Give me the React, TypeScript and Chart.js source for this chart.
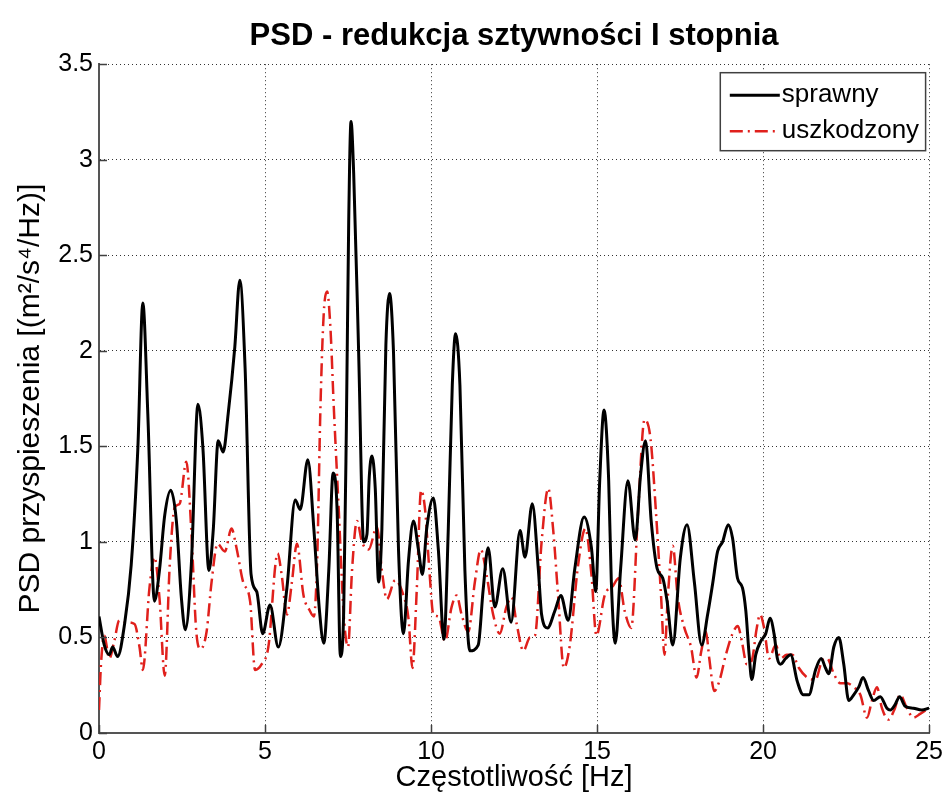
import React, { useEffect, useRef } from "react";
import { Chart, registerables } from "chart.js";

Chart.register(...registerables);

const TITLE = "PSD - redukcja sztywności I stopnia";
const X_LABEL = "Częstotliwość [Hz]";
const Y_LABEL = "PSD przyspieszenia [(m²/s⁴/Hz)]";
const SERIES_LABELS = ["sprawny", "uszkodzony"];
const X_TICKS = [0, 5, 10, 15, 20, 25];
const Y_TICKS = [0, 0.5, 1, 1.5, 2, 2.5, 3, 3.5];

const FREQ_SPRAWNY = [
  0, 0.16, 0.31, 0.41, 0.56, 0.77, 0.97, 1.17, 1.32, 1.47,
  1.67, 1.82, 1.98, 2.16, 2.33, 2.48, 2.6, 2.78, 2.98, 3.13,
  3.31, 3.44, 3.59, 3.74, 3.89, 4.09, 4.24, 4.4, 4.58, 4.75,
  4.93, 5.15, 5.4, 5.66, 5.91, 6.06, 6.29, 6.47, 6.64, 6.77,
  6.92, 7.05, 7.17, 7.27, 7.37, 7.45, 7.52, 7.59, 7.67, 7.82,
  7.97, 8.07, 8.14, 8.22, 8.32, 8.42, 8.52, 8.64, 8.75, 8.87,
  9.02, 9.17, 9.32, 9.47, 9.62, 9.74, 9.87, 10.07, 10.22, 10.39,
  10.52, 10.64, 10.74, 10.87, 11.02, 11.17, 11.42, 11.57, 11.72, 11.92,
  12.16, 12.41, 12.68, 12.83, 13.05, 13.23, 13.33, 13.51, 13.73, 13.91,
  14.13, 14.33, 14.61, 14.83, 14.96, 15.08, 15.21, 15.35, 15.43, 15.55,
  15.71, 15.93, 16.15, 16.31, 16.46, 16.63, 16.81, 16.98, 17.11, 17.28,
  17.51, 17.71, 17.93, 18.15, 18.33, 18.48, 18.63, 18.78, 18.95, 19.08,
  19.23, 19.38, 19.48, 19.58, 19.66, 19.78, 19.93, 20.08, 20.21, 20.33,
  20.43, 20.53, 20.68, 20.83, 21.03, 21.21, 21.38, 21.58, 21.75, 21.88,
  21.98, 22.13, 22.28, 22.43, 22.58, 22.73, 22.88, 23.01, 23.18, 23.33,
  23.53, 23.73, 23.83, 23.98, 24.11, 24.28, 24.53, 24.78, 25,
];
const PSD_SPRAWNY = [
  0.61, 0.46, 0.41, 0.45, 0.4, 0.57, 0.88, 1.49, 2.25, 1.67,
  0.69, 0.85, 1.14, 1.27, 1.11, 0.71, 0.54, 0.88, 1.72, 1.49,
  0.85, 1.06, 1.53, 1.47, 1.67, 2.02, 2.37, 1.91, 0.83, 0.74,
  0.52, 0.67, 0.45, 0.76, 1.22, 1.17, 1.43, 1.07, 0.64, 0.47,
  0.85, 1.36, 1.17, 0.4, 0.64, 1.6, 2.67, 3.2, 2.93, 1.99,
  1.0, 1.04, 1.34, 1.45, 1.28, 0.79, 1.07, 2.03, 2.3, 1.99,
  0.96, 0.52, 0.9, 1.11, 0.96, 0.83, 1.07, 1.23, 0.96, 0.49,
  1.07, 1.82, 2.09, 1.82, 0.85, 0.43, 0.46, 0.75, 0.97, 0.66,
  0.86, 0.58, 1.06, 0.92, 1.2, 0.86, 0.62, 0.55, 0.64, 0.72,
  0.59, 0.86, 1.13, 0.97, 0.74, 1.32, 1.69, 1.32, 0.79, 0.47,
  0.86, 1.32, 1.01, 1.35, 1.53, 1.11, 0.86, 0.81, 0.69, 0.46,
  0.92, 1.09, 0.79, 0.46, 0.62, 0.78, 0.95, 1.0, 1.09, 1.02,
  0.81, 0.76, 0.64, 0.41, 0.28, 0.41, 0.48, 0.52, 0.6, 0.52,
  0.39, 0.36, 0.39, 0.41, 0.27, 0.2, 0.2, 0.33, 0.39, 0.34,
  0.31, 0.45, 0.5, 0.36, 0.17, 0.2, 0.24, 0.29, 0.22, 0.17,
  0.19, 0.13, 0.12, 0.15, 0.19, 0.14, 0.13, 0.12, 0.13,
];

const FREQ_USZKODZONY = [
  0, 0.06, 0.16, 0.31, 0.46, 0.61, 0.82, 1.07, 1.22, 1.32,
  1.52, 1.67, 1.82, 1.98, 2.13, 2.28, 2.43, 2.63, 2.78, 2.93,
  3.06, 3.24, 3.39, 3.57, 3.79, 3.99, 4.14, 4.34, 4.55, 4.7,
  4.9, 5.1, 5.38, 5.5, 5.66, 5.81, 5.96, 6.16, 6.35, 6.47,
  6.57, 6.67, 6.77, 6.87, 6.97, 7.07, 7.22, 7.37, 7.5, 7.62,
  7.77, 7.92, 8.12, 8.37, 8.52, 8.67, 8.92, 9.17, 9.32, 9.44,
  9.57, 9.7, 9.82, 9.95, 10.07, 10.22, 10.42, 10.62, 10.77, 10.92,
  11.12, 11.32, 11.5, 11.67, 11.87, 12.07, 12.27, 12.43, 12.58, 12.78,
  12.98, 13.13, 13.33, 13.53, 13.68, 13.83, 14.0, 14.18, 14.43, 14.65,
  14.83, 14.98, 15.23, 15.48, 15.65, 15.83, 16.03, 16.23, 16.43, 16.61,
  16.78, 16.93, 17.03, 17.13, 17.28, 17.43, 17.63, 17.83, 18.0, 18.13,
  18.28, 18.38, 18.53, 18.68, 18.88, 19.08, 19.24, 19.36, 19.51, 19.66,
  19.81, 19.91, 20.03, 20.18, 20.38, 20.53, 20.71, 20.88, 21.08, 21.33,
  21.58, 21.78, 21.93, 22.13, 22.33, 22.53, 22.73, 22.93, 23.13, 23.28,
  23.43, 23.58, 23.78, 23.95, 24.13, 24.33, 24.53, 24.73, 25,
];
const PSD_USZKODZONY = [
  0.12, 0.36, 0.51, 0.39, 0.48, 0.59, 0.58, 0.57, 0.45, 0.33,
  0.76, 0.92, 0.71, 0.3, 0.88, 1.18, 1.2, 1.42, 1.06, 0.53,
  0.44, 0.53, 0.79, 0.99, 0.95, 1.07, 0.97, 0.79, 0.69, 0.33,
  0.36, 0.45, 0.94, 0.83, 0.62, 0.79, 0.99, 0.72, 0.64, 0.61,
  0.9, 1.71, 2.2, 2.31, 2.12, 1.71, 1.17, 0.62, 0.45, 0.85,
  1.11, 1.0, 0.96, 1.08, 0.85, 0.7, 0.8, 0.72, 0.6, 0.34,
  0.75, 1.27, 1.17, 0.85, 0.62, 0.61, 0.48, 0.66, 0.72, 0.62,
  0.53, 0.79, 0.96, 0.83, 0.62, 0.52, 0.66, 0.71, 0.57, 0.43,
  0.5, 0.51, 1.0, 1.28, 1.06, 0.71, 0.34, 0.46, 0.88, 1.07,
  0.83, 0.51, 0.72, 0.77, 0.81, 0.64, 0.55, 1.14, 1.64, 1.54,
  1.14, 0.71, 0.41, 0.71, 0.98, 0.71, 0.55, 0.45, 0.29, 0.42,
  0.53, 0.39, 0.22, 0.27, 0.41, 0.52, 0.56, 0.48, 0.36, 0.38,
  0.55, 0.62, 0.55, 0.39, 0.46, 0.39, 0.41, 0.41, 0.34, 0.29,
  0.28, 0.38, 0.39, 0.31, 0.26, 0.26, 0.24, 0.2, 0.08, 0.17,
  0.24, 0.13, 0.07, 0.12, 0.2, 0.13, 0.08, 0.1, 0.13,
];

const FONT = '"Liberation Sans", Arial, Helvetica, sans-serif';
const RED = "#e0201c";
const RED_DASH = [13, 5, 2, 5];

const toPoints = (xs: number[], ys: number[]) => xs.map((x, i) => ({ x, y: ys[i] }));

const inwardTicks = {
  id: "inwardTicks",
  afterDatasetsDraw(chart: any) {
    const { ctx, chartArea, scales } = chart;
    const len = 8;
    ctx.save();
    ctx.strokeStyle = "#404040";
    ctx.lineWidth = 1.5;
    ctx.beginPath();
    X_TICKS.forEach((v) => {
      const px = Math.round(scales.x.getPixelForValue(v)) + 0.5;
      ctx.moveTo(px, chartArea.bottom);
      ctx.lineTo(px, chartArea.bottom - len);
    });
    Y_TICKS.forEach((v) => {
      const py = Math.round(scales.y.getPixelForValue(v)) + 0.5;
      ctx.moveTo(chartArea.left, py);
      ctx.lineTo(chartArea.left + len, py);
    });
    ctx.stroke();
    ctx.restore();
  },
};

const boxLegend = {
  id: "boxLegend",
  afterDraw(chart: any) {
    const { ctx, chartArea } = chart;
    const sets = chart.data.datasets;
    ctx.save();
    ctx.font = `26px ${FONT}`;
    const textW = Math.max(...sets.map((d: any) => ctx.measureText(d.label).width));
    const padL = 10;
    const lineLen = 50;
    const gap = 2;
    const padR = 6;
    const rowH = 36;
    const w = padL + lineLen + gap + textW + padR;
    const h = rowH * sets.length + 6;
    const x = chartArea.right - 4 - w;
    const y = chartArea.top + 8;
    ctx.fillStyle = "#ffffff";
    ctx.fillRect(x, y, w, h);
    ctx.strokeStyle = "#404040";
    ctx.lineWidth = 1.5;
    ctx.strokeRect(x + 0.5, y + 0.5, w, h);
    sets.forEach((d: any, i: number) => {
      const cy = y + 3 + rowH * i + rowH / 2 + 2;
      ctx.strokeStyle = d.borderColor;
      ctx.lineWidth = d.borderWidth;
      ctx.setLineDash(d.borderDash || []);
      ctx.beginPath();
      ctx.moveTo(x + padL, cy);
      ctx.lineTo(x + padL + lineLen, cy);
      ctx.stroke();
      ctx.setLineDash([]);
      ctx.fillStyle = "#000";
      ctx.textBaseline = "middle";
      ctx.textAlign = "left";
      ctx.fillText(d.label, x + padL + lineLen + gap, cy);
    });
    ctx.restore();
  },
};

export default function App() {
  const ref = useRef<HTMLCanvasElement>(null);

  useEffect(() => {
    const canvas = ref.current;
    if (!canvas) return;
    const chart = new Chart(canvas, {
      type: "line",
      data: {
        datasets: [
          {
            label: SERIES_LABELS[0],
            data: toPoints(FREQ_SPRAWNY, PSD_SPRAWNY),
            borderColor: "#000000",
            borderWidth: 3,
            pointRadius: 0,
            cubicInterpolationMode: "monotone",
            fill: false,
          },
          {
            label: SERIES_LABELS[1],
            data: toPoints(FREQ_USZKODZONY, PSD_USZKODZONY),
            borderColor: RED,
            borderWidth: 2.5,
            borderDash: RED_DASH,
            pointRadius: 0,
            cubicInterpolationMode: "monotone",
            fill: false,
          },
        ],
      },
      options: {
        responsive: false,
        animation: false,
        devicePixelRatio: 1,
        layout: { padding: { left: 0, right: 16, top: 0, bottom: 0 } },
        plugins: {
          legend: { display: false },
          tooltip: { enabled: false },
          title: {
            display: true,
            fullSize: false,
            text: TITLE,
            color: "#000",
            font: { family: FONT, size: 31, weight: "bold" },
            padding: { top: 18, bottom: 9 },
          },
        },
        scales: {
          x: {
            type: "linear",
            min: 0,
            max: 25,
            afterFit: (s: any) => {
              s.height = 65;
            },
            afterBuildTicks: (s: any) => {
              s.ticks = X_TICKS.map((v) => ({ value: v }));
            },
            ticks: {
              color: "#000",
              font: { family: FONT, size: 25 },
              padding: 4,
              maxRotation: 0,
              callback: (v: any) => String(v),
            },
            grid: { color: "#333", lineWidth: 1, drawTicks: false },
            border: { display: true, color: "#555", width: 2, dash: [1, 3] },
            title: {
              display: true,
              text: X_LABEL,
              color: "#000",
              font: { family: FONT, size: 29 },
              padding: { top: 0, bottom: 3 },
            },
          },
          y: {
            type: "linear",
            min: 0,
            max: 3.5,
            afterFit: (s: any) => {
              s.width = 99;
            },
            afterBuildTicks: (s: any) => {
              s.ticks = Y_TICKS.map((v) => ({ value: v }));
            },
            ticks: {
              color: "#000",
              font: { family: FONT, size: 25 },
              padding: 6,
              callback: (v: any) => String(v),
            },
            grid: { color: "#333", lineWidth: 1, drawTicks: false },
            border: { display: true, color: "#555", width: 2, dash: [1, 3] },
            title: {
              display: true,
              text: Y_LABEL,
              color: "#000",
              font: { family: FONT, size: 30 },
              padding: { top: 13, bottom: 0 },
            },
          },
        },
      },
      plugins: [inwardTicks, boxLegend],
    } as any);
    return () => chart.destroy();
  }, []);

  return (
    <div style={{ position: "absolute", left: 0, top: 0, width: 947, height: 798, background: "#fff" }}>
      <canvas ref={ref} width={947} height={798} style={{ display: "block", width: 947, height: 798 }} />
    </div>
  );
}
